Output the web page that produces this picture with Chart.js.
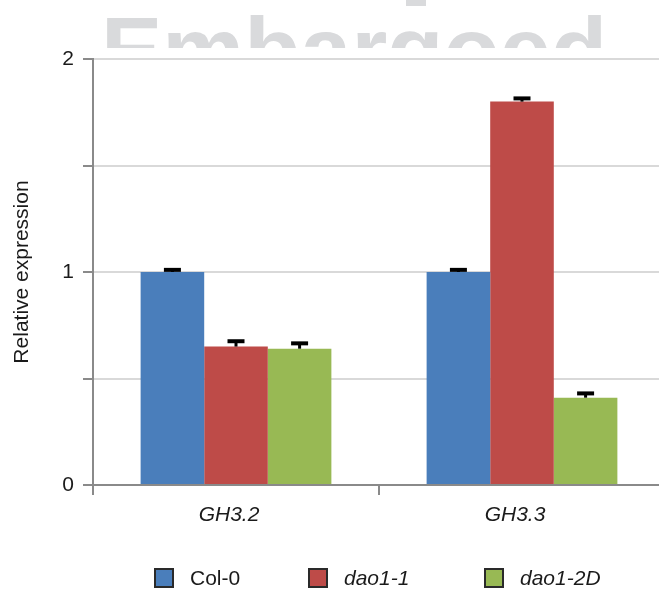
<!DOCTYPE html>
<html><head><meta charset="utf-8">
<script src="https://cdn.jsdelivr.net/npm/chart.js@4/dist/chart.umd.min.js"></script>
<style>
html,body{margin:0;padding:0;background:#fff;overflow:hidden;width:659px;height:593px;}
#wrap{position:relative;width:659px;height:593px;overflow:hidden;background:#fff;}
#wm{position:absolute;left:0;top:0;width:659px;height:48px;overflow:hidden;}
#wm span{position:absolute;left:101px;top:4px;font:bold 92px "Liberation Sans",Arial,sans-serif;line-height:1;color:#d9dadc;white-space:nowrap;}
#wm i{position:absolute;left:406px;top:0;width:20px;height:6px;background:#d9dadc;}
#c{position:absolute;left:0;top:0;}
.lg{position:absolute;top:568px;height:20px;display:flex;align-items:center;font:21px "Liberation Sans",Arial,sans-serif;color:#1a1a1a;white-space:nowrap;}
.lg b{display:inline-block;width:16px;height:16px;border:2px solid #2a2a2a;margin-right:16px;}
</style></head>
<body><div id="wrap">
<div id="wm"><span>Embargoed</span><i></i></div>
<canvas id="c" width="665" height="593"></canvas>
</div>
<script>
const categories = ['GH3.2', 'GH3.3'];
const seriesNames = ['Col-0', 'dao1-1', 'dao1-2D'];
const col0Values = [1.00, 1.00];
const dao11Values = [0.65, 1.80];
const dao12DValues = [0.64, 0.41];
const col0Errors = [0.01, 0.01];
const dao11Errors = [0.025, 0.015];
const dao12DErrors = [0.025, 0.02];
const yTickLabels = [0, 1, 2];

const colors = ['#4A7EBB', '#BE4B48', '#98B954'];
const values = [col0Values, dao11Values, dao12DValues];
const errors = [col0Errors, dao11Errors, dao12DErrors];

const FONT = '"Liberation Sans", Arial, sans-serif';
const AXIS = '#8a8a8a';

const errPlugin = {
  id: 'errbars',
  afterDatasetsDraw(chart) {
    const ctx = chart.ctx, ys = chart.scales.y;
    chart.data.datasets.forEach((ds, i) => {
      const meta = chart.getDatasetMeta(i);
      meta.data.forEach((bar, j) => {
        const top = ys.getPixelForValue(ds.data[j] + ds.errors[j]);
        ctx.save();
        ctx.strokeStyle = '#000';
        ctx.lineWidth = 3;
        ctx.beginPath(); ctx.moveTo(bar.x, bar.y); ctx.lineTo(bar.x, top); ctx.stroke();
        ctx.lineWidth = 4;
        ctx.beginPath(); ctx.moveTo(bar.x - 8.5, top); ctx.lineTo(bar.x + 8.5, top); ctx.stroke();
        ctx.restore();
      });
    });
  }
};

new Chart(document.getElementById('c'), {
  type: 'bar',
  data: {
    labels: categories,
    datasets: seriesNames.map((n, i) => ({
      label: n,
      data: values[i],
      errors: errors[i],
      backgroundColor: colors[i],
      borderWidth: 0,
      categoryPercentage: 0.667,
      barPercentage: 1.0
    }))
  },
  options: {
    responsive: false,
    animation: false,
    devicePixelRatio: 1,
    layout: { padding: { top: 59, left: 0, right: 0, bottom: 0 } },
    plugins: { legend: { display: false }, tooltip: { enabled: false } },
    scales: {
      x: {
        z: 1,
        grid: { display: true, drawOnChartArea: false, drawTicks: true, tickLength: 10, tickColor: AXIS, lineWidth: 2, offset: true },
        border: { color: AXIS, width: 2 },
        ticks: { font: { family: FONT, size: 21, style: 'italic' }, color: '#1a1a1a', padding: 8, maxRotation: 0, labelOffset: -7 },
        afterFit: s => { s.height = 108; }
      },
      y: {
        min: 0, max: 2,
        grid: { color: '#d9d9d9', lineWidth: 2, tickColor: AXIS, tickLength: 10, drawTicks: true },
        border: { color: AXIS, width: 2 },
        ticks: {
          stepSize: 0.5,
          font: { family: FONT, size: 21 },
          color: '#1a1a1a',
          padding: 9,
          callback: v => yTickLabels.includes(v) ? String(v) : ''
        },
        title: { display: true, text: 'Relative expression', font: { family: FONT, size: 21 }, color: '#1a1a1a', padding: { top: 10, bottom: 0 } },
        afterFit: s => { s.width = 93; }
      }
    }
  },
  plugins: [errPlugin]
});

const lefts = [154, 308, 484];
seriesNames.forEach((n, i) => {
  const d = document.createElement('div');
  d.className = 'lg';
  d.style.left = lefts[i] + 'px';
  const b = document.createElement('b');
  b.style.background = colors[i];
  const t = document.createElement('span');
  t.textContent = n;
  if (n.startsWith('dao')) t.style.fontStyle = 'italic';
  d.appendChild(b); d.appendChild(t);
  document.getElementById('wrap').appendChild(d);
});
</script>
</body></html>
